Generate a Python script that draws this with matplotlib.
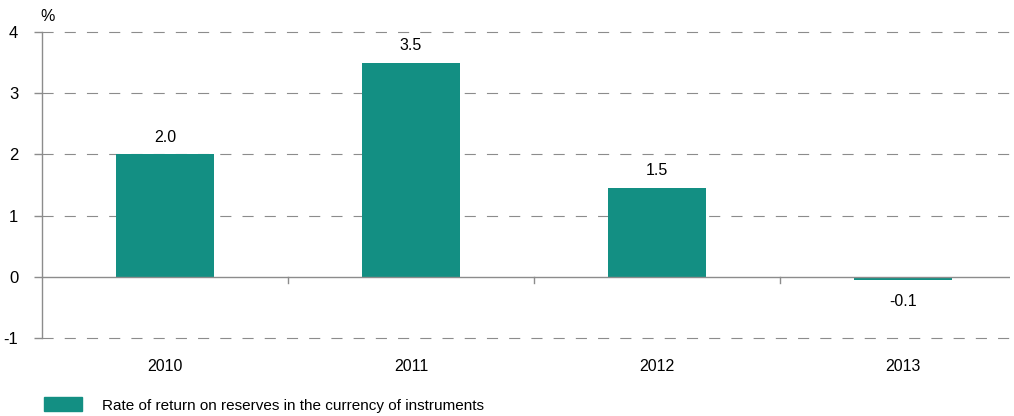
import numpy as np
import matplotlib.pyplot as plt
from matplotlib.patches import Patch

years = ['2010', '2011', '2012', '2013']
values = [2.0, 3.5, 1.45, -0.05]
value_labels = ['2.0', '3.5', '1.5', '-0.1']
series_name = 'Rate of return on reserves in the currency of instruments'

plt.rcParams['font.family'] = ['Liberation Sans', 'DejaVu Sans']
plt.rcParams['font.size'] = 11
plt.rcParams['axes.unicode_minus'] = False

teal = '#138f83'
gray = '#8c8c8c'

fig = plt.figure(figsize=(10.14, 4.16), dpi=100)
ax = fig.add_axes([0.0414, 0.1875, 0.9546, 0.7355])

x = np.arange(len(years))
ax.bar(x, values, width=0.4, color=teal, zorder=3)

# value labels
for xi, v, lab in zip(x, values, value_labels):
    if v >= 0:
        ax.annotate(lab, (xi, v), xytext=(0, 7), textcoords='offset points',
                    ha='center', va='bottom', fontsize=11.5)
    else:
        ax.annotate(lab, (xi, v), xytext=(0, -10), textcoords='offset points',
                    ha='center', va='top', fontsize=11.5)

ax.set_xlim(-0.5, 3.435)
ax.set_ylim(-1, 4)
ax.set_yticks([-1, 0, 1, 2, 3, 4])

# dashed grid lines, solid zero line
for yv in [-1, 1, 2, 3, 4]:
    ax.axhline(yv, color=gray, lw=0.8, dashes=(10, 10), zorder=1, clip_on=False)
ax.axhline(0, color=gray, lw=1.0, zorder=4)

for s in ['top', 'right', 'bottom']:
    ax.spines[s].set_visible(False)
ax.spines['left'].set_color(gray)
ax.spines['left'].set_linewidth(1.0)

ax.tick_params(axis='y', direction='out', length=6, width=1, color=gray, pad=11,
               labelsize=12)
ax.tick_params(axis='x', length=0, pad=15, labelsize=11.5)
ax.set_xticks(x)
ax.set_xticklabels(years)

# small separators between categories on the zero line
for sep in [0.5, 1.5, 2.5]:
    ax.plot([sep, sep], [0, -0.1], color=gray, lw=1.0, zorder=4)

fig.text(0.0395, 0.96, '%', ha='left', va='center', fontsize=11.5)

fig.legend(handles=[Patch(color=teal, label=series_name)], loc='center left',
           bbox_to_anchor=(0.0434, 0.0264), frameon=False, borderpad=0,
           borderaxespad=0, handlelength=2.5, handleheight=1.0,
           handletextpad=1.3, fontsize=11)

fig.savefig('out.png', dpi=100)
